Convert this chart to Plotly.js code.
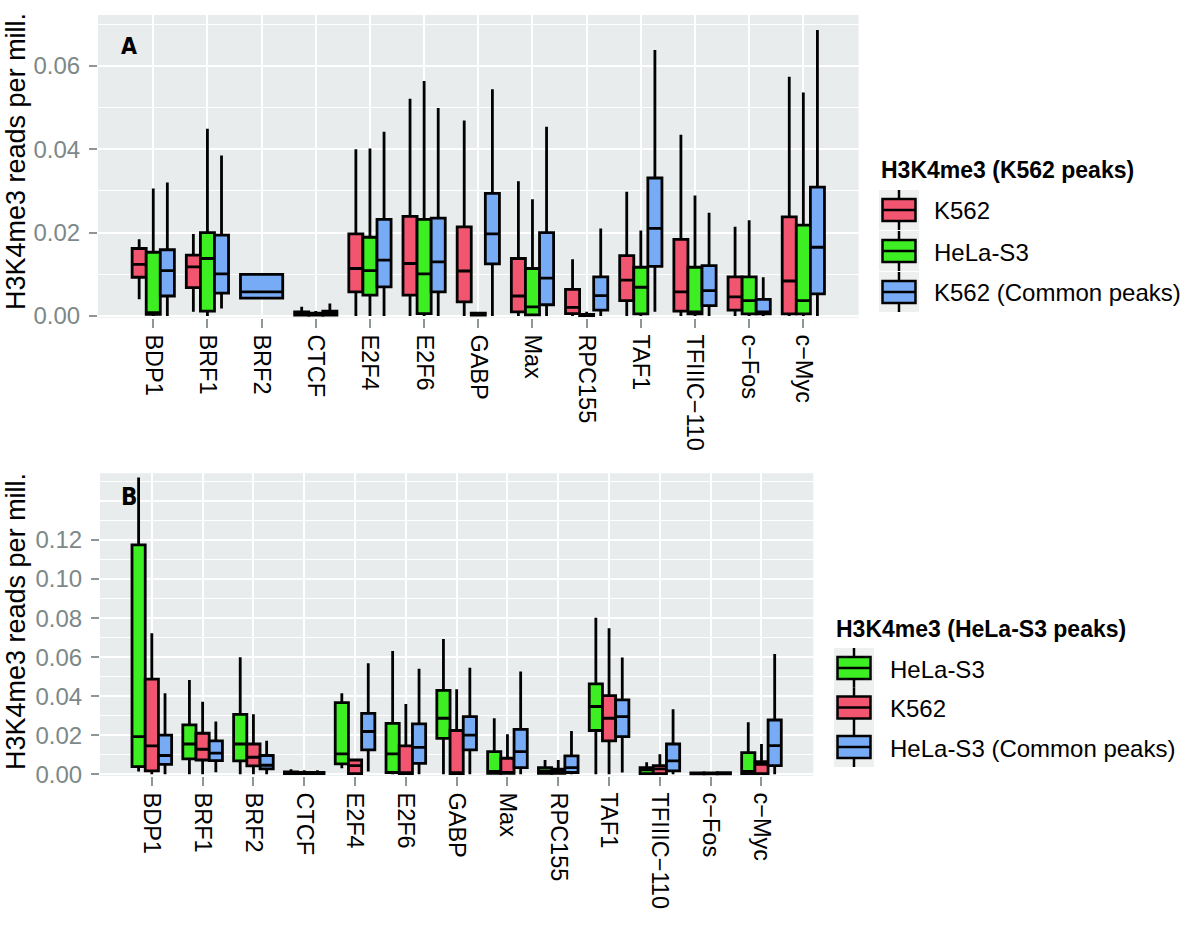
<!DOCTYPE html>
<html>
<head>
<meta charset="utf-8">
<script src="https://cdn.plot.ly/plotly-3.0.1.min.js"></script>
<style>html,body{margin:0;padding:0;background:#fff;} #chart{width:1200px;height:932px;}</style>
</head>
<body>
<div id="chart"></div>
<script>
// ---------- data ----------
const categories = ['BDP1','BRF1','BRF2','CTCF','E2F4','E2F6','GABP','Max','RPC155','TAF1','TFIIIC\u2212110','c\u2212Fos','c\u2212Myc'];

// Panel A: H3K4me3 (K562 peaks)
const aK562_low  = [0.004, 0.001, null, 0, 0, 0, 0, 0, 0, 0, 0, 0, 0];
const aK562_q1   = [0.0093, 0.0068, null, 0.0002, 0.0058, 0.005, 0.0034, 0.001, 0.0006, 0.0037, 0.0012, 0.0014, 0.0005];
const aK562_med  = [0.0124, 0.0118, null, 0.0005, 0.0114, 0.0126, 0.0108, 0.0048, 0.0021, 0.0086, 0.0058, 0.0046, 0.0084];
const aK562_q3   = [0.0162, 0.0146, null, 0.001, 0.0197, 0.0239, 0.0214, 0.0138, 0.0064, 0.0145, 0.0184, 0.0094, 0.0238];
const aK562_high = [0.0184, 0.0197, null, 0.0022, 0.04, 0.0521, 0.0469, 0.0323, 0.0136, 0.0298, 0.0435, 0.0214, 0.0574];

const aHeLa_low  = [0, 0, null, 0, 0, 0, 0, 0, 0, 0, 0, 0, 0];
const aHeLa_q1   = [0.0004, 0.0012, null, 0.0002, 0.005, 0.0006, 0.0002, 0.0003, 0.0001, 0.0005, 0.0005, 0.0005, 0.0005];
const aHeLa_med  = [0.0008, 0.0138, null, 0.0004, 0.0109, 0.0101, 0.0004, 0.0022, 0.0002, 0.0069, 0.001, 0.0037, 0.0037];
const aHeLa_q3   = [0.0153, 0.02, null, 0.0007, 0.0189, 0.0232, 0.0007, 0.0114, 0.0004, 0.0117, 0.0117, 0.0094, 0.0218];
const aHeLa_high = [0.0306, 0.0449, null, 0.0012, 0.0402, 0.0564, 0.001, 0.028, 0.001, 0.0205, 0.0289, 0.023, 0.0536];

const aComm_low  = [0, 0.0018, 0.004, 0, 0, 0, 0, 0, 0, 0.001, 0, 0, 0];
const aComm_q1   = [0.0048, 0.0055, 0.0043, 0.0002, 0.007, 0.0058, 0.0125, 0.0027, 0.0014, 0.0119, 0.0025, 0.0005, 0.0053];
const aComm_med  = [0.0109, 0.0101, 0.0058, 0.0006, 0.0134, 0.013, 0.0197, 0.0091, 0.0049, 0.021, 0.0061, 0.001, 0.0165];
const aComm_q3   = [0.0159, 0.0194, 0.01, 0.0012, 0.0232, 0.0235, 0.0294, 0.02, 0.0094, 0.0331, 0.0121, 0.004, 0.0309];
const aComm_high = [0.032, 0.0385, 0.01, 0.003, 0.0442, 0.0499, 0.0544, 0.0454, 0.021, 0.0638, 0.0248, 0.0093, 0.0686];

// Panel B: H3K4me3 (HeLa-S3 peaks)
const bHeLa_low  = [0.0014, 0, 0, 0, 0.0031, 0, 0, 0, 0, 0, 0, 0, 0];
const bHeLa_q1   = [0.0039, 0.0079, 0.0068, 0.0003, 0.0053, 0.0009, 0.0184, 0.0005, 0.0005, 0.0224, 0.0003, 0.0002, 0.0003];
const bHeLa_med  = [0.0193, 0.0155, 0.0155, 0.0007, 0.0104, 0.0104, 0.0287, 0.0014, 0.0017, 0.0347, 0.0022, 0.0004, 0.0014];
const bHeLa_q3   = [0.1175, 0.0253, 0.0307, 0.0012, 0.0367, 0.0261, 0.043, 0.0116, 0.0034, 0.0463, 0.0034, 0.0007, 0.0111];
const bHeLa_high = [0.1521, 0.0483, 0.0599, 0.0025, 0.0415, 0.0632, 0.0693, 0.0287, 0.0073, 0.0802, 0.0061, 0.0012, 0.0266];

const bK562_low  = [0, 0, 0, 0, 0, 0, 0, 0, 0, 0, 0, 0, 0];
const bK562_q1   = [0.0017, 0.0073, 0.0043, 0.0003, 0.0003, 0.0003, 0.0003, 0.0004, 0.0005, 0.0171, 0.0003, 0.0002, 0.0003];
const bK562_med  = [0.0145, 0.0128, 0.0087, 0.0006, 0.0044, 0.0008, 0.0008, 0.0008, 0.0017, 0.0287, 0.0027, 0.0004, 0.0051];
const bK562_q3   = [0.0487, 0.021, 0.0155, 0.001, 0.0073, 0.0145, 0.0224, 0.0082, 0.0026, 0.0403, 0.0044, 0.0007, 0.0065];
const bK562_high = [0.0722, 0.0372, 0.0307, 0.002, 0.0075, 0.036, 0.0435, 0.0205, 0.0073, 0.0748, 0.0102, 0.0012, 0.0155];

const bComm_low  = [0, 0.001, 0, 0, 0.0014, 0, 0, 0, 0, 0.0009, 0, 0, 0];
const bComm_q1   = [0.0051, 0.007, 0.0027, 0.0003, 0.0125, 0.0056, 0.0125, 0.0034, 0.0009, 0.0193, 0.0017, 0.0002, 0.0044];
const bComm_med  = [0.0096, 0.0108, 0.0046, 0.0006, 0.0219, 0.0138, 0.02, 0.0116, 0.0034, 0.0295, 0.0068, 0.0005, 0.0147];
const bComm_q3   = [0.02, 0.0171, 0.0096, 0.001, 0.0312, 0.0258, 0.0295, 0.023, 0.0094, 0.0381, 0.0155, 0.0008, 0.0278];
const bComm_high = [0.0415, 0.027, 0.0172, 0.002, 0.0569, 0.0541, 0.0546, 0.0526, 0.0222, 0.0598, 0.0333, 0.0015, 0.0616];

const yTicksA = [0, 0.02, 0.04, 0.06];
const yTicksB = [0, 0.02, 0.04, 0.06, 0.08, 0.10, 0.12];

const legendTitleA = 'H3K4me3 (K562 peaks)';
const legendTitleB = 'H3K4me3 (HeLa-S3 peaks)';
const yTitle = 'H3K4me3 reads per mill.';

// ---------- styling ----------
const RED = '#F2556F', GREEN = '#3DEE22', BLUE = '#78ABF6';
const FONT = '"Liberation Sans", Arial, Helvetica, sans-serif';
const LETTER_FONT = '"DejaVu Sans Condensed", "Liberation Sans Narrow", "Liberation Sans", sans-serif';
const W = 1200, H = 932;
const px = x => x / W, py = y => 1 - y / H;

const seriesA = [
  {name:'K562', color:RED, low:aK562_low, q1:aK562_q1, med:aK562_med, q3:aK562_q3, high:aK562_high},
  {name:'HeLa-S3', color:GREEN, low:aHeLa_low, q1:aHeLa_q1, med:aHeLa_med, q3:aHeLa_q3, high:aHeLa_high},
  {name:'K562 (Common peaks)', color:BLUE, low:aComm_low, q1:aComm_q1, med:aComm_med, q3:aComm_q3, high:aComm_high}
];
const seriesB = [
  {name:'HeLa-S3', color:GREEN, low:bHeLa_low, q1:bHeLa_q1, med:bHeLa_med, q3:bHeLa_q3, high:bHeLa_high},
  {name:'K562', color:RED, low:bK562_low, q1:bK562_q1, med:bK562_med, q3:bK562_q3, high:bK562_high},
  {name:'HeLa-S3 (Common peaks)', color:BLUE, low:bComm_low, q1:bComm_q1, med:bComm_med, q3:bComm_q3, high:bComm_high}
];

const DODGE = 0.78;
const traces = [];
function addPanel(series, xa, ya) {
  categories.forEach((c, i) => {
    const present = series.filter(s => s.med[i] !== null && s.med[i] !== undefined);
    const n = present.length;
    const w = DODGE / n;
    present.forEach((s, k) => {
      const pos = i - DODGE / 2 + w * (k + 0.5);
      traces.push({
        type: 'box', xaxis: xa, yaxis: ya, name: s.name + ' ' + c,
        x: [pos], q1: [s.q1[i]], median: [s.med[i]], q3: [s.q3[i]],
        lowerfence: [s.low[i]], upperfence: [s.high[i]],
        width: w, whiskerwidth: 0, boxpoints: false,
        fillcolor: s.color, line: {color: '#000000', width: 2.8},
        showlegend: false, hoverinfo: 'skip'
      });
    });
  });
}
addPanel(seriesA, 'x', 'y');
addPanel(seriesB, 'x2', 'y2');

const xCommon = {
  range: [-1.02, 13.02], tickmode: 'array', tickvals: categories.map((c, i) => i), ticktext: categories,
  tickangle: 90, showgrid: true, gridcolor: '#ffffff', gridwidth: 2, zeroline: false,
  ticks: 'outside', ticklen: 9, tickwidth: 2, tickcolor: '#8E9696', showline: false,
  tickfont: {family: FONT, size: 23.5, color: '#000000'}, ticklabelstandoff: 2, fixedrange: true
};
function yAxis(range, tv, domain, anchor) {
  return {
    domain: domain, anchor: anchor, range: range, tickmode: 'array', tickvals: tv,
    ticktext: tv.map(v => v.toFixed(2)), showgrid: true, gridcolor: '#ffffff', gridwidth: 2,
    zeroline: false, ticks: 'outside', ticklen: 8, tickwidth: 2, tickcolor: '#8E9696',
    tickfont: {family: FONT, size: 24, color: '#7D8888'}, ticklabelstandoff: 4,
    minor: {dtick: 0.01, tick0: 0, showgrid: true, gridcolor: '#ffffff', gridwidth: 1, ticks: ''},
    fixedrange: true
  };
}

const shapes = [
  {type: 'line', xref: 'x2 domain', x0: 0, x1: 1, yref: 'y2', y0: 0.14, y1: 0.14, layer: 'below',
   line: {color: '#ffffff', width: 2}}
];
const annotations = [
  {text: '<b>A</b>', xref: 'paper', yref: 'paper', x: px(119), y: py(46), xanchor: 'left', yanchor: 'middle',
   showarrow: false, font: {family: LETTER_FONT, size: 23, color: '#000'}},
  {text: '<b>B</b>', xref: 'paper', yref: 'paper', x: px(119), y: py(497), xanchor: 'left', yanchor: 'middle',
   showarrow: false, font: {family: LETTER_FONT, size: 24, color: '#000'}},
  {text: yTitle, xref: 'paper', yref: 'paper', x: px(16), y: py(162), textangle: -90, xanchor: 'center', yanchor: 'middle',
   showarrow: false, font: {family: FONT, size: 27, color: '#000'}},
  {text: yTitle, xref: 'paper', yref: 'paper', x: px(16), y: py(622), textangle: -90, xanchor: 'center', yanchor: 'middle',
   showarrow: false, font: {family: FONT, size: 27, color: '#000'}}
];

// custom ggplot-style legends
function addLegend(series, title, titleX, titleY, keyCx, textX, centers) {
  annotations.push({text: '<b>' + title + '</b>', xref: 'paper', yref: 'paper', x: px(titleX), y: py(titleY),
    xanchor: 'left', yanchor: 'middle', showarrow: false, font: {family: FONT, size: 23, color: '#000'}});
  series.forEach((s, k) => {
    const cy = centers[k];
    shapes.push({type: 'rect', xref: 'paper', yref: 'paper', x0: px(keyCx - 20), x1: px(keyCx + 20),
      y0: py(cy + 20), y1: py(cy - 20), fillcolor: '#EEF0F0', line: {width: 0}});
    shapes.push({type: 'line', xref: 'paper', yref: 'paper', x0: px(keyCx), x1: px(keyCx),
      y0: py(cy - 20), y1: py(cy + 20), line: {color: '#000', width: 2.5}});
    shapes.push({type: 'rect', xref: 'paper', yref: 'paper', x0: px(keyCx - 16.5), x1: px(keyCx + 16.5),
      y0: py(cy + 11), y1: py(cy - 11), fillcolor: s.color, line: {color: '#000', width: 2.5}});
    shapes.push({type: 'line', xref: 'paper', yref: 'paper', x0: px(keyCx - 16.5), x1: px(keyCx + 16.5),
      y0: py(cy), y1: py(cy), line: {color: '#000', width: 2.5}});
    annotations.push({text: s.name, xref: 'paper', yref: 'paper', x: px(textX), y: py(cy + 1),
      xanchor: 'left', yanchor: 'middle', showarrow: false, font: {family: FONT, size: 24, color: '#000'}});
  });
}
addLegend(seriesA, legendTitleA, 879, 170, 899, 932, [210, 251, 292]);
addLegend(seriesB, legendTitleB, 834, 629, 854, 888, [668, 707.5, 747]);

const layout = {
  width: W, height: H, margin: {l: 0, r: 0, t: 0, b: 0}, showlegend: false,
  paper_bgcolor: '#ffffff', plot_bgcolor: '#E8ECEC', boxmode: 'overlay',
  font: {family: FONT},
  xaxis: Object.assign({}, xCommon, {domain: [px(98), px(858.6)], anchor: 'y'}),
  yaxis: yAxis([-0.0004, 0.0722], yTicksA, [py(317.7), py(15)], 'x'),
  xaxis2: Object.assign({}, xCommon, {domain: [px(100), px(813.3)], anchor: 'y2'}),
  yaxis2: yAxis([-0.0008, 0.1542], yTicksB, [py(775.8), py(473.3)], 'x2'),
  shapes: shapes, annotations: annotations
};

Plotly.newPlot('chart', traces, layout, {staticPlot: true, displayModeBar: false});
</script>
</body>
</html>
